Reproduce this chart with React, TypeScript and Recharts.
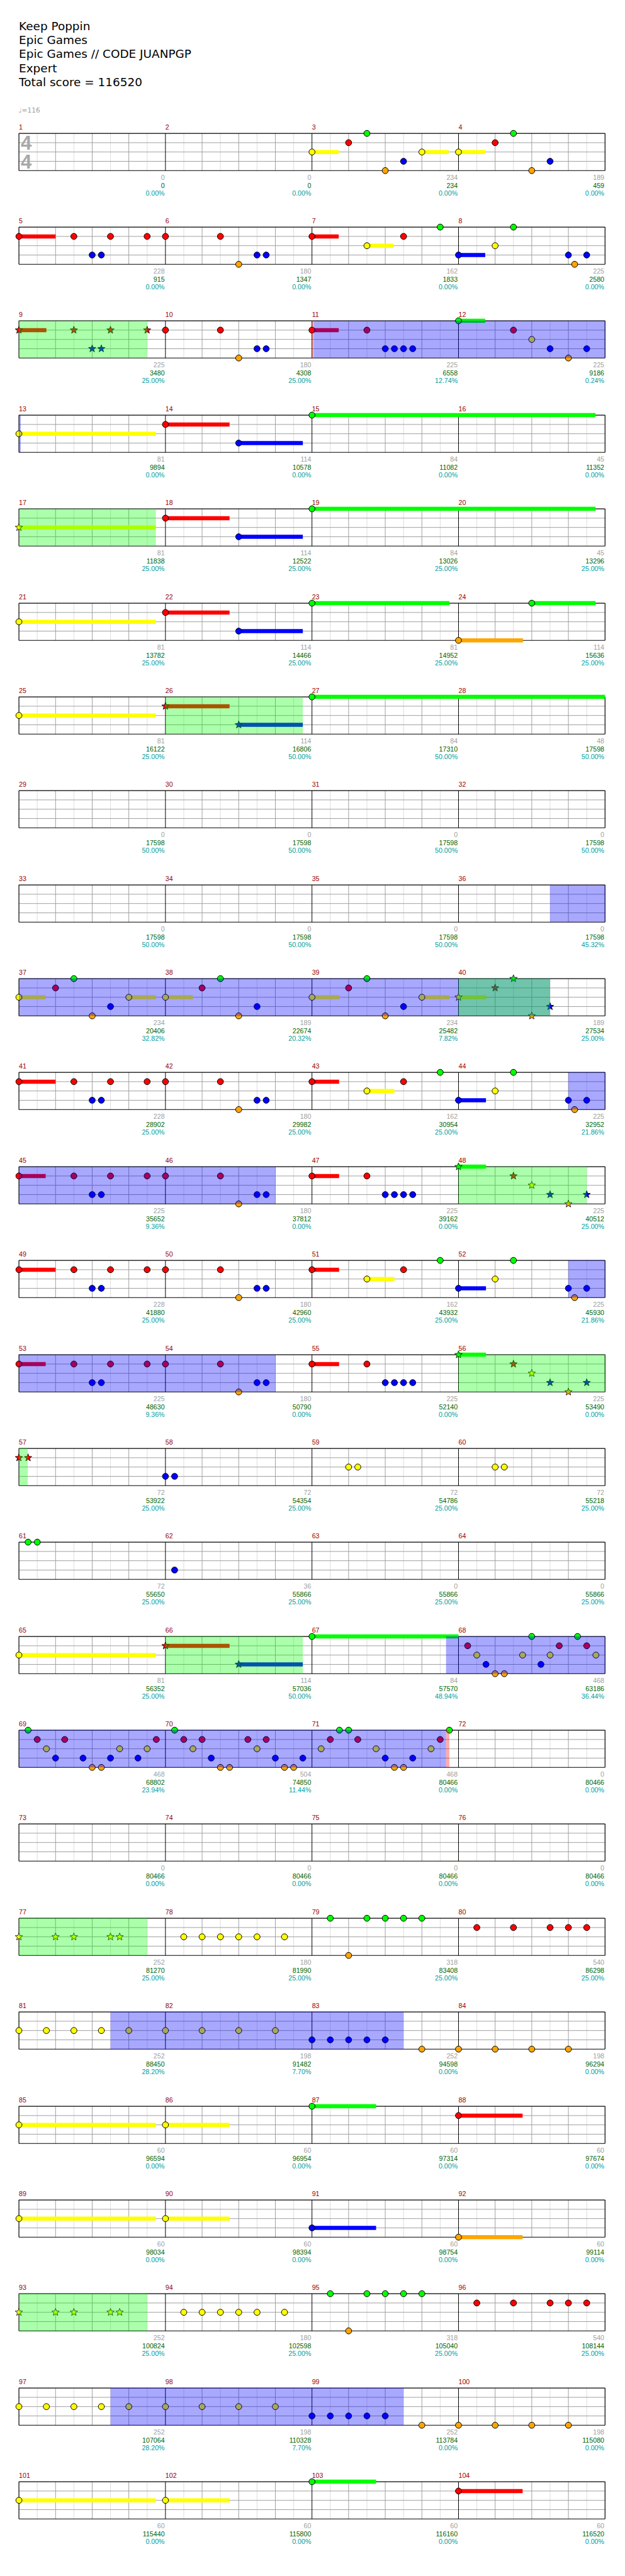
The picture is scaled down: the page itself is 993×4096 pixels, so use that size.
import React from 'react';
import { ComposedChart, Scatter, XAxis, YAxis, ReferenceLine, ReferenceArea, ReferenceDot } from 'recharts';

const S = 0.97;
const FONT_TITLE = '"DejaVu Sans", sans-serif';
const FONT_NUM = '"Liberation Sans", Arial, sans-serif';

const titleLines = ['Keep Poppin', 'Epic Games', 'Epic Games // CODE JUANPGP', 'Expert', 'Total score = 116520'];
const tempoLabel = '\u2669=116';
const timeSignature = ['4', '4'];
const laneColors = ['#00ff00', '#ff0000', '#ffff00', '#0000ff', '#ffa500'];

// notes: [beat within row (0-16), lane (0=G,1=R,2=Y,3=B,4=O), sustain length in beats, star note]
const notesM01_04 = [[8, 2, 0.73], [9, 1], [9.5, 0], [10, 4], [10.5, 3], [11, 2, 0.73], [12, 2, 0.73], [13, 1], [13.5, 0], [14, 4], [14.5, 3]];
const notesM05_08 = [[0, 1, 1], [1.5, 1], [2, 3], [2.25, 3], [2.5, 1], [3.5, 1], [4, 1], [5.5, 1], [6, 4], [6.5, 3], [6.75, 3], [8, 1, 0.73], [9.5, 2, 0.73], [10.5, 1], [11.5, 0], [12, 3, 0.73], [13, 2], [13.5, 0], [15, 3], [15.17, 4], [15.5, 3]];
const notesM09_12 = [[0, 1, 0.75, 1], [1.5, 1, 0, 1], [2, 3, 0, 1], [2.25, 3, 0, 1], [2.5, 1, 0, 1], [3.5, 1, 0, 1], [4, 1], [5.5, 1], [6, 4], [6.5, 3], [6.75, 3], [8, 1, 0.73], [9.5, 1], [10, 3], [10.25, 3], [10.5, 3], [10.75, 3], [12, 0, 0.73], [13.5, 1], [14, 2], [14.5, 3], [15, 4], [15.5, 3]];
const notesM13_16 = [[0, 2, 3.74], [4, 1, 1.75], [6, 3, 1.75], [8, 0, 7.74]];
const notesM17_20 = [[0, 2, 3.74, 1], [4, 1, 1.75], [6, 3, 1.75], [8, 0, 7.74]];
const notesM21_24 = [[0, 2, 3.74], [4, 1, 1.75], [6, 3, 1.75], [8, 0, 3.75], [12, 4, 1.76], [14, 0, 1.74]];
const notesM25_28 = [[0, 2, 3.74], [4, 1, 1.75, 1], [6, 3, 1.75, 1], [8, 0, 8]];
const notesM29_32 = [];
const notesM33_36 = [];
const notesM37_40 = [[0, 2, 0.73], [1, 1], [1.5, 0], [2, 4], [2.5, 3], [3, 2, 0.74], [4, 2, 0.75], [5, 1], [5.5, 0], [6, 4], [6.5, 3], [8, 2, 0.75], [9, 1], [9.5, 0], [10, 4], [10.5, 3], [11, 2, 0.75], [12, 2, 0.76, 1], [13, 1, 0, 1], [13.5, 0, 0, 1], [14, 4, 0, 1], [14.5, 3, 0, 1]];
const notesM41_44 = [[0, 1, 1], [1.5, 1], [2, 3], [2.25, 3], [2.5, 1], [3.5, 1], [4, 1], [5.5, 1], [6, 4], [6.5, 3], [6.75, 3], [8, 1, 0.74], [9.5, 2, 0.75], [10.5, 1], [11.5, 0], [12, 3, 0.75], [13, 2], [13.5, 0], [15, 3], [15.17, 4], [15.5, 3]];
const notesM45_48 = [[0, 1, 0.73], [1.5, 1], [2, 3], [2.25, 3], [2.5, 1], [3.5, 1], [4, 1], [5.5, 1], [6, 4], [6.5, 3], [6.75, 3], [8, 1, 0.74], [9.5, 1], [10, 3], [10.25, 3], [10.5, 3], [10.75, 3], [12, 0, 0.75, 1], [13.5, 1, 0, 1], [14, 2, 0, 1], [14.5, 3, 0, 1], [15, 4, 0, 1], [15.5, 3, 0, 1]];
const notesM49_52 = [[0, 1, 1], [1.5, 1], [2, 3], [2.25, 3], [2.5, 1], [3.5, 1], [4, 1], [5.5, 1], [6, 4], [6.5, 3], [6.75, 3], [8, 1, 0.74], [9.5, 2, 0.75], [10.5, 1], [11.5, 0], [12, 3, 0.75], [13, 2], [13.5, 0], [15, 3], [15.17, 4], [15.5, 3]];
const notesM53_56 = [[0, 1, 0.73], [1.5, 1], [2, 3], [2.25, 3], [2.5, 1], [3.5, 1], [4, 1], [5.5, 1], [6, 4], [6.5, 3], [6.75, 3], [8, 1, 0.74], [9.5, 1], [10, 3], [10.25, 3], [10.5, 3], [10.75, 3], [12, 0, 0.75, 1], [13.5, 1, 0, 1], [14, 2, 0, 1], [14.5, 3, 0, 1], [15, 4, 0, 1], [15.5, 3, 0, 1]];
const notesM57_60 = [[0, 1, 0, 1], [0.25, 1, 0, 1], [4, 3], [4.25, 3], [9, 2], [9.25, 2], [13, 2], [13.25, 2]];
const notesM61_64 = [[0.25, 0], [0.5, 0], [4.25, 3]];
const notesM65_68 = [[0, 2, 3.74], [4, 1, 1.75, 1], [6, 3, 1.75, 1], [8, 0, 4], [12.25, 1], [12.5, 2], [12.75, 3], [13, 4], [13.25, 4], [13.75, 2], [14, 0], [14.25, 3], [14.5, 2], [14.75, 1], [15.25, 0], [15.5, 1], [15.75, 2]];
const notesM69_72 = [[0.25, 0], [0.5, 1], [0.75, 2], [1, 3], [1.25, 1], [1.75, 3], [2, 4], [2.25, 4], [2.5, 3], [2.75, 2], [3.25, 3], [3.5, 2], [3.75, 1], [4.25, 0], [4.5, 1], [4.75, 2], [5, 1], [5.25, 3], [5.5, 4], [5.75, 4], [6.25, 1], [6.5, 2], [6.75, 1], [7, 3], [7.25, 4], [7.5, 4], [7.75, 3], [8.25, 2], [8.5, 1], [8.75, 0], [9, 0], [9.25, 1], [9.75, 2], [10, 3], [10.25, 4], [10.5, 4], [10.75, 3], [11.25, 2], [11.5, 1], [11.75, 0]];
const notesM73_76 = [];
const notesM77_80 = [[0, 2, 0, 1], [1, 2, 0, 1], [1.5, 2, 0, 1], [2.5, 2, 0, 1], [2.75, 2, 0, 1], [4.5, 2], [5, 2], [5.5, 2], [6, 2], [6.5, 2], [7.25, 2], [8.5, 0], [9, 4], [9.5, 0], [10, 0], [10.5, 0], [11, 0], [12.5, 1], [13.5, 1], [14.5, 1], [15, 1], [15.5, 1]];
const notesM81_84 = [[0, 2], [0.75, 2], [1.5, 2], [2.25, 2], [3, 2], [4, 2], [5, 2], [6, 2], [7, 2], [8, 3], [8.5, 3], [9, 3], [9.5, 3], [10, 3], [11, 4], [12, 4], [13, 4], [14, 4], [15, 4]];
const notesM85_88 = [[0, 2, 3.74], [4, 2, 1.75], [8, 0, 1.75], [12, 1, 1.75]];
const notesM89_92 = [[0, 2, 3.74], [4, 2, 1.75], [8, 3, 1.75], [12, 4, 1.75]];
const notesM93_96 = [[0, 2, 0, 1], [1, 2, 0, 1], [1.5, 2, 0, 1], [2.5, 2, 0, 1], [2.75, 2, 0, 1], [4.5, 2], [5, 2], [5.5, 2], [6, 2], [6.5, 2], [7.25, 2], [8.5, 0], [9, 4], [9.5, 0], [10, 0], [10.5, 0], [11, 0], [12.5, 1], [13.5, 1], [14.5, 1], [15, 1], [15.5, 1]];
const notesM97_100 = [[0, 2], [0.75, 2], [1.5, 2], [2.25, 2], [3, 2], [4, 2], [5, 2], [6, 2], [7, 2], [8, 3], [8.5, 3], [9, 3], [9.5, 3], [10, 3], [11, 4], [12, 4], [13, 4], [14, 4], [15, 4]];
const notesM101_104 = [[0, 2, 3.74], [4, 2, 1.75], [8, 0, 1.75], [12, 1, 1.75]];

const rowNotes = [notesM01_04, notesM05_08, notesM09_12, notesM13_16, notesM17_20, notesM21_24, notesM25_28, notesM29_32, notesM33_36, notesM37_40, notesM41_44, notesM45_48, notesM49_52, notesM53_56, notesM57_60, notesM61_64, notesM65_68, notesM69_72, notesM73_76, notesM77_80, notesM81_84, notesM85_88, notesM89_92, notesM93_96, notesM97_100, notesM101_104];

// per-measure statistics (measures 1..104)
const measureGain = [0, 0, 234, 189, 228, 180, 162, 225, 225, 180, 225, 225, 81, 114, 84, 45, 81, 114, 84, 45, 81, 114, 81, 114, 81, 114, 84, 48, 0, 0, 0, 0, 0, 0, 0, 0, 234, 189, 234, 189, 228, 180, 162, 225, 225, 180, 225, 225, 228, 180, 162, 225, 225, 180, 225, 225, 72, 72, 72, 72, 72, 36, 0, 0, 81, 114, 84, 468, 468, 504, 468, 0, 0, 0, 0, 0, 252, 180, 318, 540, 252, 198, 252, 198, 60, 60, 60, 60, 60, 60, 60, 60, 252, 180, 318, 540, 252, 198, 252, 198, 60, 60, 60, 60];
const measureScore = [0, 0, 234, 459, 915, 1347, 1833, 2580, 3480, 4308, 6558, 9186, 9894, 10578, 11082, 11352, 11838, 12522, 13026, 13296, 13782, 14466, 14952, 15636, 16122, 16806, 17310, 17598, 17598, 17598, 17598, 17598, 17598, 17598, 17598, 17598, 20406, 22674, 25482, 27534, 28902, 29982, 30954, 32952, 35652, 37812, 39162, 40512, 41880, 42960, 43932, 45930, 48630, 50790, 52140, 53490, 53922, 54354, 54786, 55218, 55650, 55866, 55866, 55866, 56352, 57036, 57570, 63186, 68802, 74850, 80466, 80466, 80466, 80466, 80466, 80466, 81270, 81990, 83408, 86298, 88450, 91482, 94598, 96294, 96594, 96954, 97314, 97674, 98034, 98394, 98754, 99114, 100824, 102598, 105040, 108144, 107064, 110328, 113784, 115080, 115440, 115800, 116160, 116520];
const measurePct = ['0.00%', '0.00%', '0.00%', '0.00%', '0.00%', '0.00%', '0.00%', '0.00%', '25.00%', '25.00%', '12.74%', '0.24%', '0.00%', '0.00%', '0.00%', '0.00%', '25.00%', '25.00%', '25.00%', '25.00%', '25.00%', '25.00%', '25.00%', '25.00%', '25.00%', '50.00%', '50.00%', '50.00%', '50.00%', '50.00%', '50.00%', '50.00%', '50.00%', '50.00%', '50.00%', '45.32%', '32.82%', '20.32%', '7.82%', '25.00%', '25.00%', '25.00%', '25.00%', '21.86%', '9.36%', '0.00%', '0.00%', '25.00%', '25.00%', '25.00%', '25.00%', '21.86%', '9.36%', '0.00%', '0.00%', '0.00%', '25.00%', '25.00%', '25.00%', '25.00%', '25.00%', '25.00%', '25.00%', '25.00%', '25.00%', '50.00%', '48.94%', '36.44%', '23.94%', '11.44%', '0.00%', '0.00%', '0.00%', '0.00%', '0.00%', '0.00%', '25.00%', '25.00%', '25.00%', '25.00%', '28.20%', '7.70%', '0.00%', '0.00%', '0.00%', '0.00%', '0.00%', '0.00%', '0.00%', '0.00%', '0.00%', '0.00%', '25.00%', '25.00%', '25.00%', '25.00%', '28.20%', '7.70%', '0.00%', '0.00%', '0.00%', '0.00%', '0.00%', '0.00%'];

// sections in song beats
const soloSections = [[40.05, 48.05], [142.5, 158.5], [175, 183], [207, 215], [267.66, 283.66], [322.5, 330.5], [386.5, 394.5]];
const starPowerSections = [[32, 35.5], [64, 67.74], [100, 103.75], [156, 158.5], [188, 191.5], [220, 224.24], [260, 263.75], [304, 307.5], [368, 371.5]];
const sectionMarkers = [[40, 40.05], [283.66, 283.75]];

// extent of one staff row: 16 beats x 5 lanes
const rowExtent = [{ x: 0, y: 0 }, { x: 16, y: 4 }];

const W = 993;
const CH = 136;
const MT = 30 * S;
const PH = 61 * S;
const ML = 31 * S;
const PW = 960 * S;
const MR = W - ML - PW;
const MB = CH - MT - PH;

const halfBeats = Array.from({ length: 16 }, (_, i) => i + 0.5);
const beatLines = [1, 2, 3, 5, 6, 7, 9, 10, 11, 13, 14, 15];
const barLines = [4, 8, 12];
const measureStarts = [0, 4, 8, 12];

function starPath(cx: number, cy: number, R: number, r: number) {
  let d = '';
  for (let i = 0; i < 10; i++) {
    const a = -Math.PI / 2 + (i * Math.PI) / 5;
    const rad = i % 2 === 0 ? R : r;
    d += (i === 0 ? 'M' : 'L') + (cx + rad * Math.cos(a)).toFixed(2) + ',' + (cy + rad * Math.sin(a)).toFixed(2);
  }
  return d + 'Z';
}

const NoteShape = (props: any) => {
  const { cx, cy, payload } = props;
  if (cx == null || cy == null || !payload || payload.hidden) return null;
  const color = laneColors[payload.y];
  if (payload.star) {
    return <path d={starPath(cx, cy, 6.4 * S, 2.7 * S)} fill={color} stroke="#000" strokeWidth={0.8} />;
  }
  return <circle cx={cx} cy={cy} r={5 * S} fill={color} stroke="#000" strokeWidth={1} />;
};

function clipSections(secs: number[][], start: number) {
  return secs
    .filter(([a, b]) => b > start && a < start + 16)
    .map(([a, b]) => [Math.max(a, start) - start, Math.min(b, start + 16) - start]);
}

function StaffRow({ index }: { index: number }) {
  const start = index * 16;
  const data = rowNotes[index].map((n: number[]) => ({ x: n[0], y: n[1], len: n[2] || 0, star: n[3] || 0 }));
  const sustains = data.filter((d) => d.len > 0);
  const solos = clipSections(soloSections, start);
  const sps = clipSections(starPowerSections, start);
  const marks = clipSections(sectionMarkers, start);
  const top = (188.3 + 154 * index) * S;
  const extent = rowExtent.map((p) => ({ ...p, hidden: true }));
  return (
    <div style={{ position: 'absolute', left: 0, top, width: W, height: CH }}>
      <ComposedChart width={W} height={CH} data={extent} margin={{ top: MT, right: MR, bottom: MB, left: ML }}>
        <XAxis type="number" dataKey="x" domain={[0, 16]} hide />
        <YAxis type="number" dataKey="y" domain={[0, 4]} reversed hide />
        {halfBeats.map((x) => (
          <ReferenceLine key={'hb' + x} x={x} stroke="#dddddd" strokeWidth={1} zIndex={-20} />
        ))}
        {[1, 2, 3].map((y) => (
          <ReferenceLine key={'ln' + y} y={y} stroke="#a0a0a0" strokeWidth={1} zIndex={-15} />
        ))}
        {beatLines.map((x) => (
          <ReferenceLine key={'bt' + x} x={x} stroke="#a0a0a0" strokeWidth={1} zIndex={-15} />
        ))}
        {barLines.map((x) => (
          <ReferenceLine key={'br' + x} x={x} stroke="#000" strokeWidth={1} zIndex={-10} />
        ))}
        <ReferenceLine y={0} stroke="#000" strokeWidth={1.2} zIndex={-10} />
        <ReferenceLine y={4} stroke="#000" strokeWidth={1.2} zIndex={-10} />
        <ReferenceLine x={0} stroke="#000" strokeWidth={1.2} zIndex={-10} />
        <ReferenceLine x={16} stroke="#000" strokeWidth={1.2} zIndex={-10} />
        {index === 0 && (
          <ReferenceDot
            x={0}
            y={0}
            r={0}
            ifOverflow="visible"
            zIndex={-5}
            shape={(p: any) => (
              <g fontFamily={FONT_NUM} fontWeight="bold" fontSize={32 * S} fill="#a8a8a8">
                <text x={p.cx + 3 * S} y={p.cy + 27 * S}>{timeSignature[0]}</text>
                <text x={p.cx + 3 * S} y={p.cy + 57.4 * S}>{timeSignature[1]}</text>
              </g>
            )}
          />
        )}
        {sustains.map((d, i) => (
          <ReferenceArea
            key={'sus' + i}
            x1={d.x}
            x2={Math.min(16, d.x + d.len)}
            y1={d.y - 0.22}
            y2={d.y + 0.22}
            ifOverflow="visible"
            fill={laneColors[d.y]}
            fillOpacity={1}
            stroke="none"
            zIndex={550}
          />
        ))}
        <Scatter data={data.length ? data : extent} shape={NoteShape} isAnimationActive={false} />
        {marks.map(([a, b], i) => (
          <ReferenceArea key={'mk' + i} x1={a} x2={b} y1={0} y2={4} fill="#ff0000" fillOpacity={0.33} stroke="none" zIndex={800} />
        ))}
        {solos.map(([a, b], i) => (
          <ReferenceArea key={'so' + i} x1={a} x2={b} y1={0} y2={4} fill="#0000ff" fillOpacity={0.34} stroke="none" zIndex={800} />
        ))}
        {sps.map(([a, b], i) => (
          <ReferenceArea key={'sp' + i} x1={a} x2={b} y1={0} y2={4} fill="#00ff00" fillOpacity={0.33} stroke="none" zIndex={810} />
        ))}
        {measureStarts.map((x, k) => {
          const m = index * 4 + k;
          return (
            <ReferenceDot
              key={'mn' + k}
              x={x}
              y={0}
              r={0}
              ifOverflow="visible"
              zIndex={900}
              shape={(p: any) => (
                <text x={p.cx} y={p.cy - 6.6 * S} fontFamily={FONT_NUM} fontSize={11 * S} fill="#990000">
                  {m + 1}
                </text>
              )}
            />
          );
        })}
        {measureStarts.map((x, k) => {
          const m = index * 4 + k;
          return (
            <ReferenceDot
              key={'st' + k}
              x={x + 4}
              y={4}
              r={0}
              ifOverflow="visible"
              zIndex={900}
              shape={(p: any) => (
                <g fontFamily={FONT_NUM} fontSize={11 * S} textAnchor="end">
                  <text x={p.cx - 1.3 * S} y={p.cy + 15.7 * S} fill="#a0a0a0">{measureGain[m]}</text>
                  <text x={p.cx - 1.3 * S} y={p.cy + 28.5 * S} fill="#006400">{measureScore[m]}</text>
                  <text x={p.cx - 1.3 * S} y={p.cy + 41.3 * S} fill="#009e9e">{measurePct[m]}</text>
                </g>
              )}
            />
          );
        })}
      </ComposedChart>
    </div>
  );
}

export default function App() {
  return (
    <div style={{ position: 'absolute', left: 0, top: 0, width: W, height: 4096, background: '#fff', overflow: 'hidden' }}>
      <svg width={W} height={200 * S} style={{ position: 'absolute', left: 0, top: 0 }}>
        {titleLines.map((t, i) => (
          <text key={t} x={31 * S} y={(49.3 + 23 * i) * S} fontFamily={FONT_TITLE} fontSize={19 * S} fill="#000">
            {t}
          </text>
        ))}
        <text x={30.5 * S} y={185 * S} fontFamily={FONT_TITLE} fontSize={11 * S} fill="#a0a0a0">
          {tempoLabel}
        </text>
      </svg>
      {rowNotes.map((_, i) => (
        <StaffRow key={i} index={i} />
      ))}
    </div>
  );
}
